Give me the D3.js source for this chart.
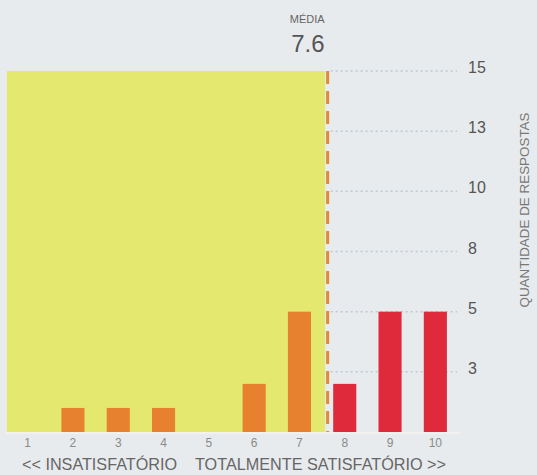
<!DOCTYPE html>
<html>
<head>
<meta charset="utf-8">
<script src="https://cdn.jsdelivr.net/npm/d3@7"></script>
<style>
  body { margin: 0; background: #e8ebed; }
  text { font-family: "Liberation Sans", Arial, sans-serif; }
</style>
</head>
<body>
<div id="chart"></div>
<script>
// data
var scores = ["1","2","3","4","5","6","7","8","9","10"]
var counts = [0, 1, 1, 1, 0, 2, 5, 2, 5, 5]
var mean = 7.6
var yTicks = [2.5, 5, 7.5, 10, 12.5, 15]
var yTickLabels = ["3", "5", "8", "10", "13", "15"]

var width = 537, height = 475

var svg = d3.select("#chart")
  .append("svg")
  .attr("width", width)
  .attr("height", height)

svg.append("rect")
  .attr("width", width).attr("height", height)
  .attr("fill", "#e8ebed")

// scales
var x = d3.scaleBand()
  .domain(scores)
  .range([5, 458])
  .paddingInner(0.49)
  .paddingOuter(0.245)

// linear version of the score axis, for the mean
var xLin = d3.scaleLinear()
  .domain([1, 10])
  .range([x("1") + x.bandwidth() / 2, x("10") + x.bandwidth() / 2])

var y = d3.scaleLinear()
  .domain([0, 15])
  .range([432, 71])

var xm = xLin(mean)

// yellow zone up to the mean
svg.append("rect")
  .attr("x", 7)
  .attr("y", y(15))
  .attr("width", xm - 1.5 - 7)
  .attr("height", y(0) - y(15))
  .attr("fill", "#e5e86f")

// dotted gridlines
svg.append("g").selectAll("line")
  .data(yTicks)
  .enter().append("line")
    .attr("x1", xm + 4)
    .attr("x2", 457)
    .attr("y1", function(d) { return y(d) })
    .attr("y2", function(d) { return y(d) })
    .attr("stroke", "#bfc8d0")
    .attr("stroke-width", 1.5)
    .attr("stroke-dasharray", "2,3")

// baseline
svg.append("line")
  .attr("x1", 5).attr("x2", 460)
  .attr("y1", y(0) + 1).attr("y2", y(0) + 1)
  .attr("stroke", "#f3f1ef")
  .attr("stroke-width", 2)

// bars
svg.append("g").selectAll("rect")
  .data(counts)
  .enter().append("rect")
    .attr("x", function(d, i) { return x(scores[i]) })
    .attr("y", function(d) { return y(d) })
    .attr("width", x.bandwidth())
    .attr("height", function(d) { return y(0) - y(d) })
    .attr("fill", function(d, i) { return +scores[i] <= mean ? "#e8812f" : "#de2a3b" })

// mean line
svg.append("line")
  .attr("x1", xm + 1).attr("x2", xm + 1)
  .attr("y1", y(15)).attr("y2", y(0))
  .attr("stroke", "#e0893a")
  .attr("stroke-width", 3)
  .attr("stroke-dasharray", "13,7")

svg.append("text")
  .attr("x", xm - 2).attr("y", 23)
  .attr("text-anchor", "end")
  .attr("font-size", 11)
  .attr("fill", "#666")
  .text("MÉDIA")

svg.append("text")
  .attr("x", xm - 2).attr("y", 52)
  .attr("text-anchor", "end")
  .attr("font-size", 24)
  .attr("fill", "#555")
  .text(mean)

// x axis
var xAxis = svg.append("g")
  .attr("transform", "translate(0," + y(0) + ")")
  .call(d3.axisBottom(x).tickSize(0).tickPadding(6))
xAxis.select(".domain").remove()
xAxis.selectAll("text")
  .attr("font-size", 12)
  .attr("fill", "#8a8a8a")
  .style("font-family", "Liberation Sans, Arial, sans-serif")

// y axis on the right
var yAxis = svg.append("g")
  .attr("transform", "translate(468,0)")
  .call(d3.axisRight(y)
    .tickValues(yTicks)
    .tickFormat(function(d, i) { return yTickLabels[i] })
    .tickSize(0).tickPadding(0))
yAxis.select(".domain").remove()
yAxis.selectAll("text")
  .attr("dy", "0.1em")
  .attr("font-size", 16)
  .attr("fill", "#555")
  .style("font-family", "Liberation Sans, Arial, sans-serif")

// y title
svg.append("text")
  .attr("transform", "translate(529,210) rotate(-90)")
  .attr("text-anchor", "middle")
  .attr("font-size", 12)
  .attr("textLength", 195)
  .attr("lengthAdjust", "spacingAndGlyphs")
  .attr("fill", "#777")
  .text("QUANTIDADE DE RESPOSTAS")

// bottom labels
svg.append("text")
  .attr("x", 22).attr("y", 470)
  .attr("font-size", 17)
  .attr("textLength", 155)
  .attr("lengthAdjust", "spacingAndGlyphs")
  .attr("fill", "#666")
  .text("<< INSATISFATÓRIO")

svg.append("text")
  .attr("x", 195).attr("y", 470)
  .attr("font-size", 17)
  .attr("textLength", 251)
  .attr("lengthAdjust", "spacingAndGlyphs")
  .attr("fill", "#666")
  .text("TOTALMENTE SATISFATÓRIO >>")
</script>
</body>
</html>
